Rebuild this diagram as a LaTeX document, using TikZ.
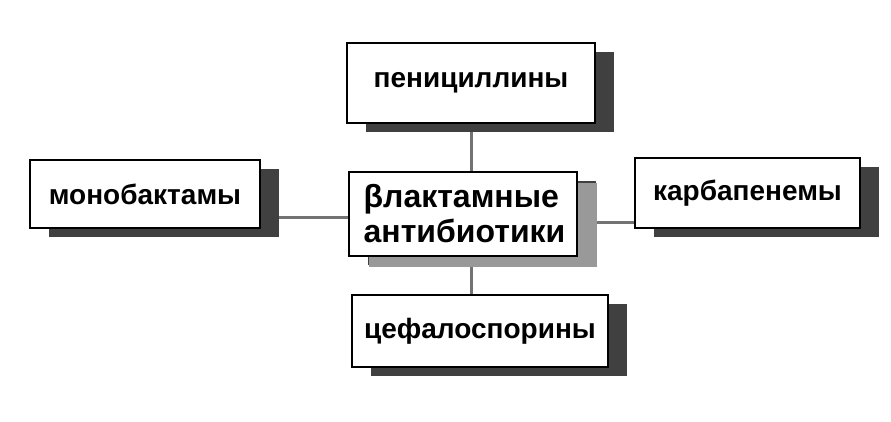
\documentclass[tikz,border=0pt]{standalone}
\usepackage{fontspec}
\setmainfont{Liberation Sans}
\usetikzlibrary{shadows,backgrounds}
\begin{document}
\begin{tikzpicture}[x=1pt,y=-1pt,
  box/.style={draw=black, line width=1.3pt, fill=white, inner sep=0pt,
    font=\fontsize{28}{32}\selectfont\bfseries,
    general shadow={fill=black!75, shadow xshift=19pt, shadow yshift=-9pt}},
  mainbox/.style={box, font=\fontsize{32}{35}\selectfont\bfseries, align=left,
    general shadow={fill=black!40, shadow xshift=20pt, shadow yshift=-11pt}},
  conn/.style={draw=black!55, line width=3pt}]
\useasboundingbox (0,0) rectangle (891,422);
\node[box, minimum width=248pt, minimum height=80pt] (pen) at (471,83) {пенициллины};
\node[mainbox, minimum width=228pt, minimum height=84pt] (cen) at (463,214) {\hspace{3pt}βлактамные\\\hspace{3pt}антибиотики};
\node[box, minimum width=230pt, minimum height=68pt] (mono) at (145,194) {монобактамы};
\node[box, minimum width=225pt, minimum height=70pt] (karb) at (747.5,193) {карбапенемы};
\node[box, minimum width=256pt, minimum height=72pt] (ceph) at (480,331) {цефалоспорины};
\begin{scope}[on background layer]
\draw[conn] (pen.south) -- (pen.south |- cen.north);
\draw[conn] (cen.south -| pen.south) -- (ceph.north -| pen.south);
\draw[conn] ([yshift=-3pt]cen.west) -- ([yshift=-3pt]cen.west -| mono.east);
\draw[conn] ([yshift=-8pt]cen.east) -- ([yshift=-8pt]cen.east -| karb.west);
\end{scope}
\end{tikzpicture}
\end{document}
